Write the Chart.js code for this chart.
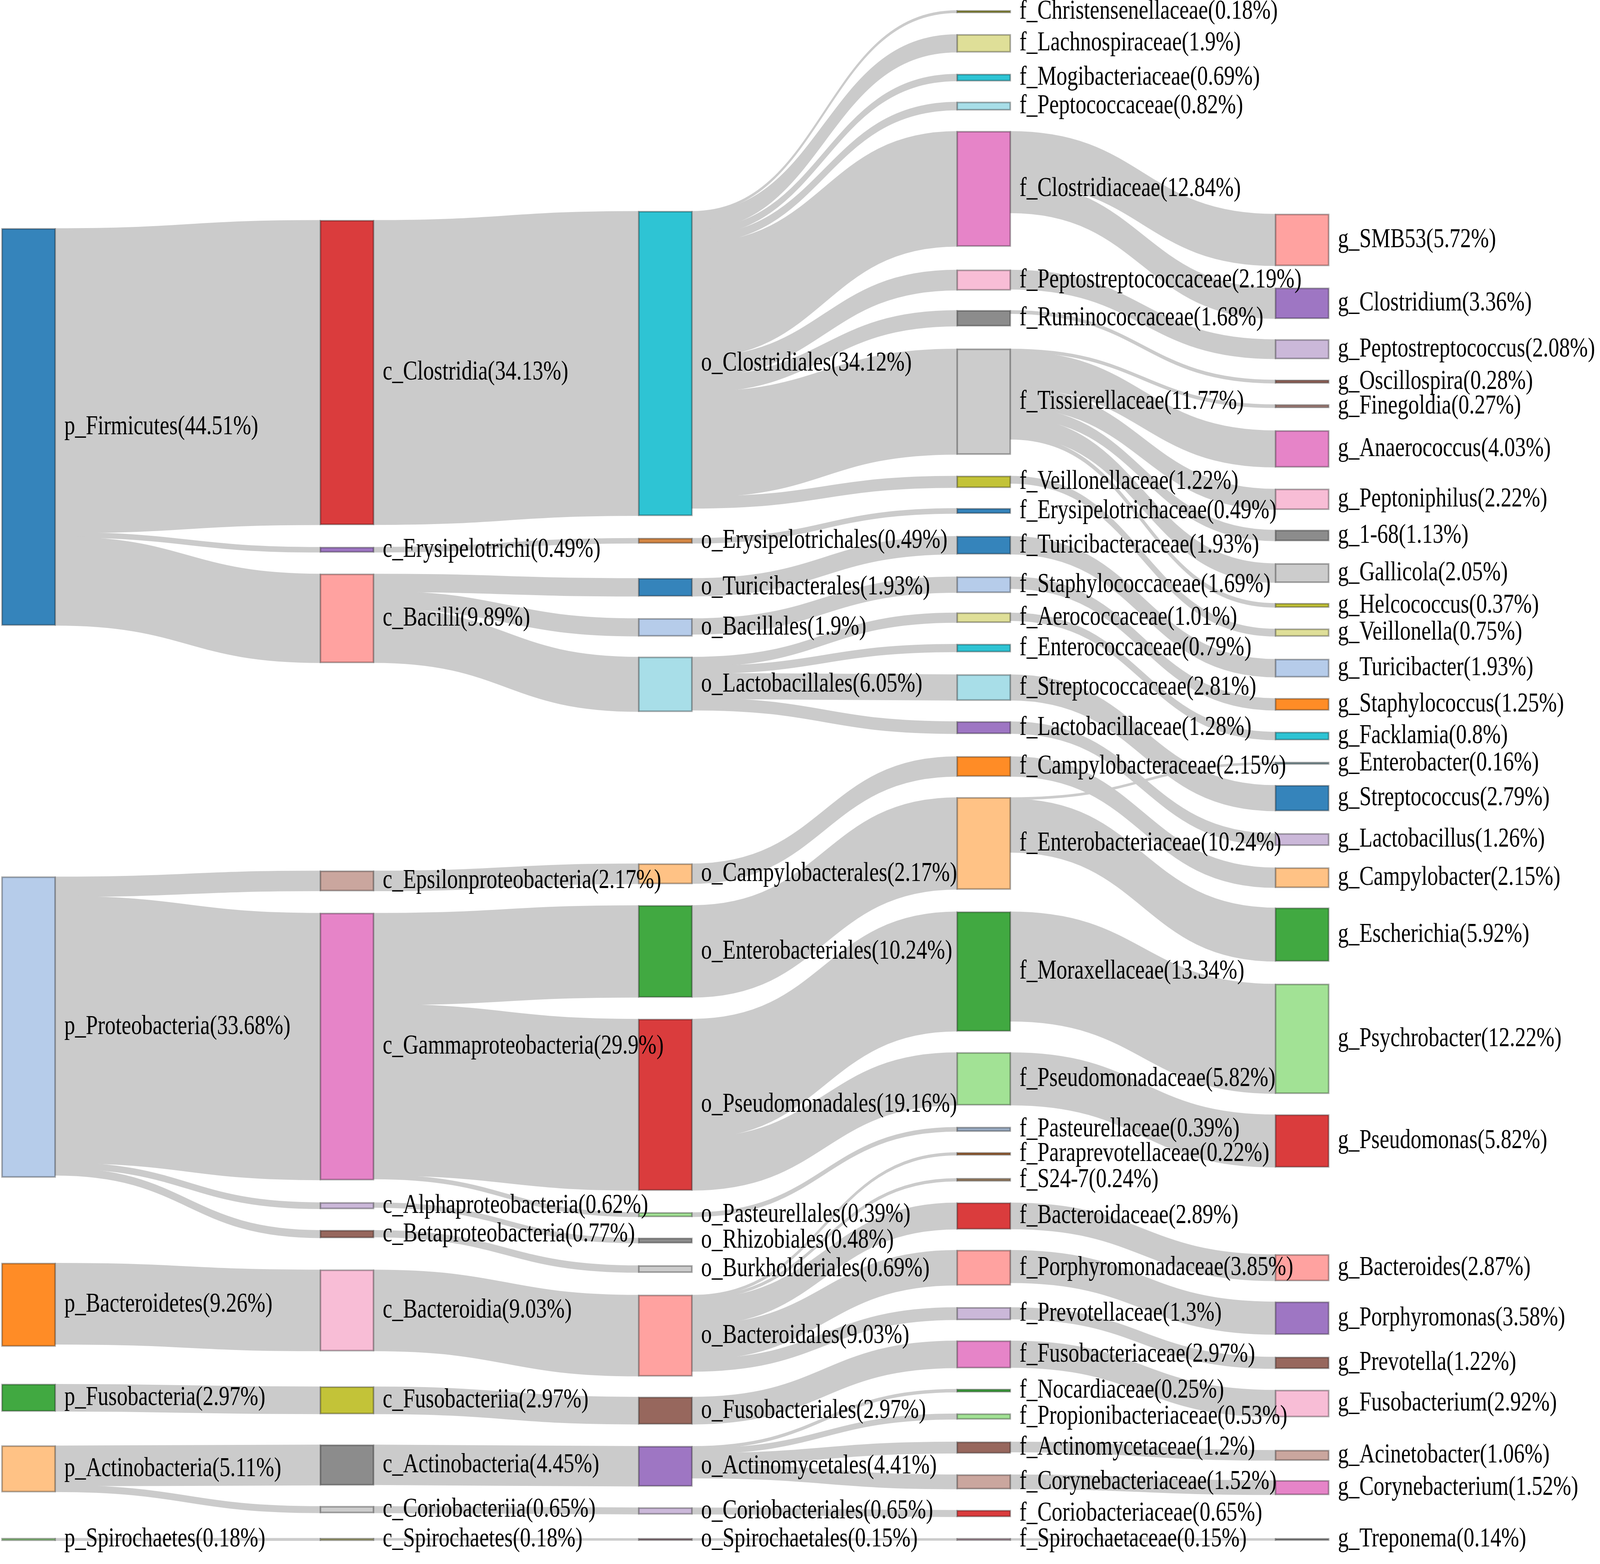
<!DOCTYPE html>
<html lang="en">
<head>
  <meta charset="UTF-8" />
  <title>Taxonomic Composition Sankey</title>
  <script src="https://cdn.jsdelivr.net/npm/chart.js@4"></script>
  <style>
    html, body {
      margin: 0;
      padding: 0;
      background: #fff;
    }
    .chart-container {
      width: 100vw;
      height: 100vh;
    }
  </style>
</head>
<body>

  <div class="chart-container">
    <canvas id="sankeyChart"></canvas>
  </div>

  <script>
    // ---- data: one set of arrays per taxonomic rank (values in %) ----
    const phylumNames = ['p_Firmicutes', 'p_Proteobacteria', 'p_Bacteroidetes', 'p_Fusobacteria', 'p_Actinobacteria', 'p_Spirochaetes'];
    const phylumPct = [44.51, 33.68, 9.26, 2.97, 5.11, 0.18];

    const classNames = ['c_Clostridia', 'c_Erysipelotrichi', 'c_Bacilli', 'c_Epsilonproteobacteria', 'c_Gammaproteobacteria',
      'c_Alphaproteobacteria', 'c_Betaproteobacteria', 'c_Bacteroidia', 'c_Fusobacteriia', 'c_Actinobacteria',
      'c_Coriobacteriia', 'c_Spirochaetes'];
    const classPct = [34.13, 0.49, 9.89, 2.17, 29.9, 0.62, 0.77, 9.03, 2.97, 4.45, 0.65, 0.18];
    const classParent = ['p_Firmicutes', 'p_Firmicutes', 'p_Firmicutes', 'p_Proteobacteria', 'p_Proteobacteria',
      'p_Proteobacteria', 'p_Proteobacteria', 'p_Bacteroidetes', 'p_Fusobacteria', 'p_Actinobacteria',
      'p_Actinobacteria', 'p_Spirochaetes'];

    const orderNames = ['o_Clostridiales', 'o_Erysipelotrichales', 'o_Turicibacterales', 'o_Bacillales', 'o_Lactobacillales',
      'o_Campylobacterales', 'o_Enterobacteriales', 'o_Pseudomonadales', 'o_Pasteurellales', 'o_Rhizobiales',
      'o_Burkholderiales', 'o_Bacteroidales', 'o_Fusobacteriales', 'o_Actinomycetales', 'o_Coriobacteriales',
      'o_Spirochaetales'];
    const orderPct = [34.12, 0.49, 1.93, 1.9, 6.05, 2.17, 10.24, 19.16, 0.39, 0.48, 0.69, 9.03, 2.97, 4.41, 0.65, 0.15];
    const orderParent = ['c_Clostridia', 'c_Erysipelotrichi', 'c_Bacilli', 'c_Bacilli', 'c_Bacilli',
      'c_Epsilonproteobacteria', 'c_Gammaproteobacteria', 'c_Gammaproteobacteria', 'c_Gammaproteobacteria',
      'c_Alphaproteobacteria', 'c_Betaproteobacteria', 'c_Bacteroidia', 'c_Fusobacteriia', 'c_Actinobacteria',
      'c_Coriobacteriia', 'c_Spirochaetes'];

    const familyNames = ['f_Christensenellaceae', 'f_Lachnospiraceae', 'f_Mogibacteriaceae', 'f_Peptococcaceae',
      'f_Clostridiaceae', 'f_Peptostreptococcaceae', 'f_Ruminococcaceae', 'f_Tissierellaceae', 'f_Veillonellaceae',
      'f_Erysipelotrichaceae', 'f_Turicibacteraceae', 'f_Staphylococcaceae', 'f_Aerococcaceae', 'f_Enterococcaceae',
      'f_Streptococcaceae', 'f_Lactobacillaceae', 'f_Campylobacteraceae', 'f_Enterobacteriaceae', 'f_Moraxellaceae',
      'f_Pseudomonadaceae', 'f_Pasteurellaceae', 'f_Paraprevotellaceae', 'f_S24-7', 'f_Bacteroidaceae',
      'f_Porphyromonadaceae', 'f_Prevotellaceae', 'f_Fusobacteriaceae', 'f_Nocardiaceae', 'f_Propionibacteriaceae',
      'f_Actinomycetaceae', 'f_Corynebacteriaceae', 'f_Coriobacteriaceae', 'f_Spirochaetaceae'];
    const familyPct = [0.18, 1.9, 0.69, 0.82, 12.84, 2.19, 1.68, 11.77, 1.22, 0.49, 1.93, 1.69, 1.01, 0.79, 2.81, 1.28,
      2.15, 10.24, 13.34, 5.82, 0.39, 0.22, 0.24, 2.89, 3.85, 1.3, 2.97, 0.25, 0.53, 1.2, 1.52, 0.65, 0.15];
    const familyParent = ['o_Clostridiales', 'o_Clostridiales', 'o_Clostridiales', 'o_Clostridiales', 'o_Clostridiales',
      'o_Clostridiales', 'o_Clostridiales', 'o_Clostridiales', 'o_Clostridiales', 'o_Erysipelotrichales',
      'o_Turicibacterales', 'o_Bacillales', 'o_Lactobacillales', 'o_Lactobacillales', 'o_Lactobacillales',
      'o_Lactobacillales', 'o_Campylobacterales', 'o_Enterobacteriales', 'o_Pseudomonadales', 'o_Pseudomonadales',
      'o_Pasteurellales', 'o_Bacteroidales', 'o_Bacteroidales', 'o_Bacteroidales', 'o_Bacteroidales', 'o_Bacteroidales',
      'o_Fusobacteriales', 'o_Actinomycetales', 'o_Actinomycetales', 'o_Actinomycetales', 'o_Actinomycetales',
      'o_Coriobacteriales', 'o_Spirochaetales'];

    const genusNames = ['g_SMB53', 'g_Clostridium', 'g_Peptostreptococcus', 'g_Oscillospira', 'g_Finegoldia',
      'g_Anaerococcus', 'g_Peptoniphilus', 'g_1-68', 'g_Gallicola', 'g_Helcococcus', 'g_Veillonella', 'g_Turicibacter',
      'g_Staphylococcus', 'g_Facklamia', 'g_Enterobacter', 'g_Streptococcus', 'g_Lactobacillus', 'g_Campylobacter',
      'g_Escherichia', 'g_Psychrobacter', 'g_Pseudomonas', 'g_Bacteroides', 'g_Porphyromonas', 'g_Prevotella',
      'g_Fusobacterium', 'g_Acinetobacter', 'g_Corynebacterium', 'g_Treponema'];
    const genusPct = [5.72, 3.36, 2.08, 0.28, 0.27, 4.03, 2.22, 1.13, 2.05, 0.37, 0.75, 1.93, 1.25, 0.8, 0.16, 2.79,
      1.26, 2.15, 5.92, 12.22, 5.82, 2.87, 3.58, 1.22, 2.92, 1.06, 1.52, 0.14];
    const genusParent = ['f_Clostridiaceae', 'f_Clostridiaceae', 'f_Peptostreptococcaceae', 'f_Ruminococcaceae',
      'f_Tissierellaceae', 'f_Tissierellaceae', 'f_Tissierellaceae', 'f_Tissierellaceae', 'f_Tissierellaceae',
      'f_Tissierellaceae', 'f_Veillonellaceae', 'f_Turicibacteraceae', 'f_Staphylococcaceae', 'f_Aerococcaceae',
      'f_Enterobacteriaceae', 'f_Streptococcaceae', 'f_Lactobacillaceae', 'f_Campylobacteraceae', 'f_Enterobacteriaceae',
      'f_Moraxellaceae', 'f_Pseudomonadaceae', 'f_Bacteroidaceae', 'f_Porphyromonadaceae', 'f_Prevotellaceae',
      'f_Fusobacteriaceae', 'f_Actinomycetaceae', 'f_Corynebacteriaceae', 'f_Spirochaetaceae'];

    // ---- layout: node centres on the value axis (fixed arrangement, in % units from top) ----
    const phylumY = [47.97, 115.4, 146.6, 157.05, 165.04, 172.97];
    const classY = [41.86, 61.77, 69.48, 98.98, 117.59, 135.47, 138.66, 147.24, 157.34, 164.61, 169.62, 172.97];
    const orderY = [40.84, 60.76, 65.99, 70.49, 76.89, 98.18, 106.9, 124.13, 136.48, 139.39, 142.59, 150.07, 158.5,
      164.75, 169.77, 172.97];
    const familyY = [1.31, 4.87, 8.72, 11.92, 21.22, 31.47, 35.76, 45.13, 54.14, 57.41, 61.26, 65.7, 69.4, 72.82, 77.25,
      81.76, 86.12, 94.77, 109.16, 121.22, 126.89, 129.65, 132.56, 136.63, 142.44, 147.6, 152.18, 156.25, 159.16,
      162.65, 166.5, 170.06, 172.97];
    const genusY = [26.96, 34.08, 39.24, 42.88, 45.64, 50.44, 56.1, 60.17, 64.39, 68.02, 71.08, 75.07, 79.14, 82.7,
      85.76, 89.68, 94.33, 98.62, 105.01, 116.72, 128.2, 142.44, 148.11, 153.13, 157.7, 163.52, 167.15, 172.97];

    // ---- colours ----
    const phylumColors = ['#1f77b4', '#aec7e8', '#ff7f0e', '#2ca02c', '#ffbb78', '#98df8a'];
    const classColors = ['#d62728', '#9467bd', '#ff9896', '#c49c94', '#e377c2', '#c5b0d5', '#8c564b', '#f7b6d2',
      '#bcbd22', '#7f7f7f', '#c7c7c7', '#b5b57a'];
    const orderColors = ['#17becf', '#d07a30', '#1f77b4', '#aec7e8', '#9edae5', '#ffbb78', '#2ca02c', '#d62728',
      '#98df8a', '#7f7f7f', '#c7c7c7', '#ff9896', '#8c564b', '#9467bd', '#c5b0d5', '#8c7079'];
    const familyColors = ['#9a9a2a', '#dbdb8d', '#17becf', '#9edae5', '#e377c2', '#f7b6d2', '#7f7f7f', '#c7c7c7',
      '#bcbd22', '#1f77b4', '#1f77b4', '#aec7e8', '#dbdb8d', '#17becf', '#9edae5', '#9467bd', '#ff7f0e', '#ffbb78',
      '#2ca02c', '#98df8a', '#8fa3bd', '#a0561e', '#9c7c5a', '#d62728', '#ff9896', '#c5b0d5', '#e377c2', '#2ca02c',
      '#98df8a', '#8c564b', '#c49c94', '#d62728', '#b592a2'];
    const genusColors = ['#ff9896', '#9467bd', '#c5b0d5', '#8c564b', '#a07870', '#e377c2', '#f7b6d2', '#7f7f7f',
      '#c7c7c7', '#bcbd22', '#dbdb8d', '#aec7e8', '#ff7f0e', '#17becf', '#7fa3a8', '#1f77b4', '#c5b0d5', '#ffbb78',
      '#2ca02c', '#98df8a', '#d62728', '#ff9896', '#9467bd', '#8c564b', '#f7b6d2', '#c49c94', '#e377c2', '#7f7f7f'];

    const levels = [
      { names: phylumNames, pct: phylumPct, parent: null, y: phylumY, colors: phylumColors },
      { names: classNames, pct: classPct, parent: classParent, y: classY, colors: classColors },
      { names: orderNames, pct: orderPct, parent: orderParent, y: orderY, colors: orderColors },
      { names: familyNames, pct: familyPct, parent: familyParent, y: familyY, colors: familyColors },
      { names: genusNames, pct: genusPct, parent: genusParent, y: genusY, colors: genusColors }
    ];

    const NODE_W = 0.1667;      // node width in column units
    const Y_MAX = 175.73;       // value axis span (%)
    const LINK_COLOR = '#cbcbcb';
    const REF_W = 5213, REF_H = 4005;

    function buildGraph() {
      const nodes = {};
      levels.forEach((lv, col) => {
        lv.names.forEach((n, i) => {
          nodes[n] = { name: n, col: col, value: lv.pct[i], center: lv.y[i], color: lv.colors[i], outs: [], ins: [] };
        });
      });
      const links = [];
      levels.forEach(lv => {
        if (!lv.parent) return;
        lv.names.forEach((n, i) => {
          const l = { src: nodes[lv.parent[i]], tgt: nodes[n], value: lv.pct[i] };
          links.push(l);
          l.src.outs.push(l);
          l.tgt.ins.push(l);
        });
      });
      // stack links at each node, ordered by the position of the other end
      Object.values(nodes).forEach(nd => {
        nd.outs.sort((a, b) => a.tgt.center - b.tgt.center);
        let off = nd.center - nd.value / 2;
        nd.outs.forEach(l => { l.sy = off; off += l.value; });
        nd.ins.sort((a, b) => a.src.center - b.src.center);
        off = nd.center - nd.value / 2;
        nd.ins.forEach(l => { l.ty = off; off += l.value; });
      });
      return { nodes: Object.values(nodes), links: links };
    }

    const sankeyPlugin = {
      id: 'sankeyDraw',
      afterDatasetsDraw(chart) {
        const ctx = chart.ctx;
        const xs = chart.scales.x;
        const ys = chart.scales.y;
        const g = buildGraph();
        const uy = chart.height / REF_H;   // vertical size unit
        const ux = chart.width / REF_W;    // horizontal size unit

        ctx.save();
        // links
        g.links.forEach(l => {
          const x0 = xs.getPixelForValue(l.src.col + NODE_W);
          const x1 = xs.getPixelForValue(l.tgt.col);
          const xm = (x0 + x1) / 2;
          const s0 = ys.getPixelForValue(l.sy);
          const s1 = ys.getPixelForValue(l.sy + l.value);
          const t0 = ys.getPixelForValue(l.ty);
          const t1 = ys.getPixelForValue(l.ty + l.value);
          ctx.beginPath();
          ctx.moveTo(x0, s0);
          ctx.bezierCurveTo(xm, s0, xm, t0, x1, t0);
          ctx.lineTo(x1, t1);
          ctx.bezierCurveTo(xm, t1, xm, s1, x0, s1);
          ctx.closePath();
          ctx.fillStyle = LINK_COLOR;
          ctx.fill();
          ctx.strokeStyle = LINK_COLOR;
          ctx.lineWidth = 3 * uy;
          ctx.stroke();
        });

        // nodes
        g.nodes.forEach(nd => {
          const x0 = xs.getPixelForValue(nd.col);
          const x1 = xs.getPixelForValue(nd.col + NODE_W);
          const y0 = ys.getPixelForValue(nd.center - nd.value / 2);
          const y1 = ys.getPixelForValue(nd.center + nd.value / 2);
          ctx.globalAlpha = 0.9;
          ctx.fillStyle = nd.color;
          ctx.fillRect(x0, y0, x1 - x0, y1 - y0);
          ctx.globalAlpha = 1;
          ctx.strokeStyle = 'rgba(0,0,0,0.32)';
          ctx.lineWidth = 4 * uy;
          ctx.strokeRect(x0, y0, x1 - x0, y1 - y0);
        });

        // labels (kept in the reference proportions even if the canvas aspect differs)
        ctx.font = Math.round(70 * uy) + 'px "Liberation Serif", "Times New Roman", serif';
        ctx.fillStyle = '#000';
        ctx.textAlign = 'left';
        ctx.textBaseline = 'middle';
        g.nodes.forEach(nd => {
          const x = xs.getPixelForValue(nd.col + NODE_W) + 30 * ux;
          const y = ys.getPixelForValue(nd.center);
          ctx.save();
          ctx.translate(x, y);
          ctx.scale(ux / uy, 1);
          ctx.fillText(nd.name + '(' + nd.value + '%)', 0, 0);
          ctx.restore();
        });
        ctx.restore();
      }
    };

    new Chart(document.getElementById('sankeyChart'), {
      type: 'scatter',
      data: { datasets: [{ data: [] }] },
      options: {
        responsive: true,
        maintainAspectRatio: false,
        animation: false,
        layout: { padding: 0 },
        scales: {
          x: { type: 'linear', min: -0.0064, max: 5.019, display: false },
          y: { type: 'linear', min: 0, max: Y_MAX, reverse: true, display: false }
        },
        plugins: {
          legend: { display: false },
          tooltip: { enabled: false }
        }
      },
      plugins: [sankeyPlugin]
    });
  </script>
</body>
</html>
